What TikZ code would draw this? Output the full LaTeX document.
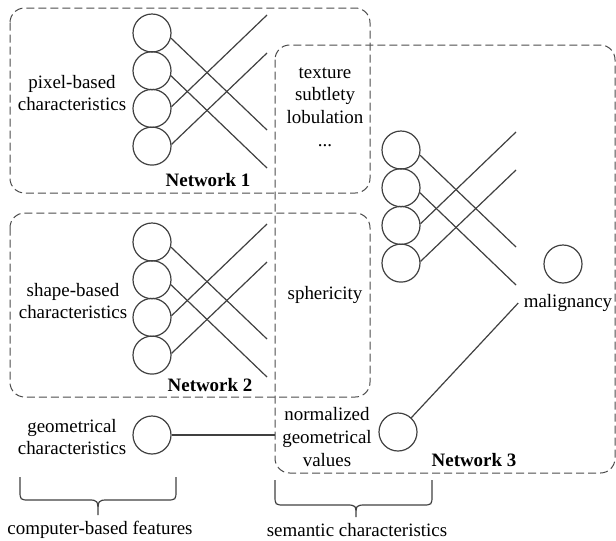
\documentclass[tikz,border=0pt]{standalone}
\usepackage{fontspec}
\setmainfont{Liberation Serif}

\begin{document}
\begin{tikzpicture}[x=0.75pt,y=-0.75pt,
    neuron/.style={circle,draw=black!75,line width=0.9pt,minimum size=28.5pt,inner sep=0pt},
    link/.style={draw=black!75,line width=0.9pt},
    netbox/.style={draw=black!70,line width=0.75pt,dash pattern=on 6pt off 3pt,rounded corners=11pt},
    txt/.style={font=\fontsize{14.2}{17}\selectfont,align=center,inner sep=0pt},
    netname/.style={font=\fontsize{14.2}{17}\selectfont\bfseries,inner sep=0pt},
    bracket/.style={draw=black!75,line width=0.9pt}]
    \useasboundingbox (0,0) rectangle (616,540);

    % dashed network frames
    \draw[netbox] (10,8) rectangle (370,193);
    \draw[netbox] (10,213) rectangle (370,397);
    \draw[netbox] (275,45) rectangle (615,473);

    % three small networks
    \foreach \n/\dx/\dy in {a/0/0, b/0/209, c/249/117} {
        \foreach \i in {1,...,4}
            \node[neuron] (\n\i) at ({152+\dx},{33+37.7*(\i-1)+\dy}) {};
        \coordinate (\n e1) at ({267+\dx},{15+\dy});
        \coordinate (\n e2) at ({267+\dx},{53+\dy});
        \coordinate (\n e3) at ({267+\dx},{130+\dy});
        \coordinate (\n e4) at ({267+\dx},{168+\dy});
        \draw[link] (\n1.-15) -- (\n e3);
        \draw[link] (\n2.-15) -- (\n e4);
        \draw[link] (\n3.5) -- (\n e1);
        \draw[link] (\n4.5) -- (\n e2);
    }

    \node[txt] (pix) at (72,93) {pixel-based\\characteristics};
    \node[netname] (net1) at (208,180) {Network 1};
    \node[txt] (shp) at (73,301) {shape-based\\characteristics};
    \node[netname] (net2) at (210,385) {Network 2};
    \node[txt] (sem) at (325,107) {texture\\subtlety\\lobulation\\...};
    \node[txt] (sph) at (325,295) {sphericity};
    \node[txt] (nrm) at (327,437) {normalized\\geometrical\\values};
    \node[netname] (net3) at (474,460) {Network 3};

    \node[neuron] (geo) at (152,435) {};
    \node[txt] (geotxt) at (72,437) {geometrical\\characteristics};
    \coordinate (geoend) at (275,435);
    \draw[link] (geo) -- (geoend);

    \node[neuron] (norm) at (398,432) {};
    \node[neuron] (out) at (563,264) {};
    \node[txt,inner xsep=4pt] (maltxt) at (568,303) {malignancy};
    \draw[link] (norm) -- (maltxt.west);

    % braces
    \draw[bracket] (20,477) -- (20,490) .. controls (20,500) .. (30,500) -- (88,500)
        .. controls (98,500) .. (98,515) .. controls (98,500) .. (108,500) -- (166,500)
        .. controls (176,500) .. (176,490) -- (176,477);
    \draw[bracket] (275,480) -- (275,495) .. controls (275,505) .. (285,505) -- (346,505)
        .. controls (356,505) .. (356,517) .. controls (356,505) .. (366,505) -- (422,505)
        .. controls (432,505) .. (432,495) -- (432,480);
    \node[txt] (cbf) at (100,530) {computer-based features};
    \node[txt] (sc) at (357,530) {semantic characteristics};
\end{tikzpicture}
\end{document}
